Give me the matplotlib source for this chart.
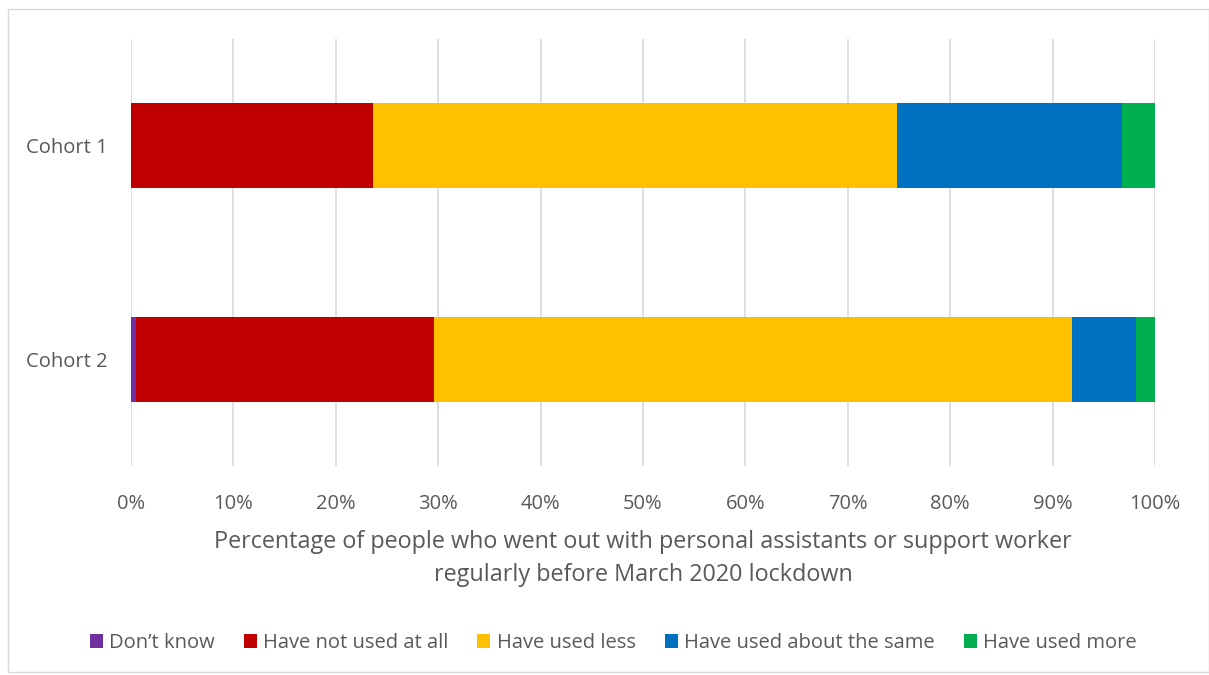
import numpy as np
from matplotlib import pyplot as plt
from matplotlib.patches import Rectangle

plt.rcParams['font.family'] = ['Open Sans', 'DejaVu Sans']

cohorts = ['Cohort 2', 'Cohort 1']
categories = ["Don\u2019t know", 'Have not used at all', 'Have used less',
              'Have used about the same', 'Have used more']
colors = ['#7030A0', '#C00000', '#FFC000', '#0070C0', '#00B050']
# percentages, order matches cohorts (bottom to top)
dont_know = [0.45, 0.0]
not_used = [29.1, 23.6]
used_less = [62.3, 51.2]
about_same = [6.3, 22.0]
used_more = [1.85, 3.2]
series = [dont_know, not_used, used_less, about_same, used_more]

fig = plt.figure(figsize=(12.09, 6.75), dpi=100)
fig.patches.append(Rectangle((8/1209, 1-672/675), 1-8/1209, (672-9)/675,
                             transform=fig.transFigure, fill=False,
                             edgecolor='#D9D9D9', linewidth=1))
ax = fig.add_axes([131/1209, 1-466/675, (1155-131)/1209, (466-39)/675])

y = np.arange(len(cohorts))
left = np.zeros(len(cohorts))
for vals, lab, col in zip(series, categories, colors):
    ax.barh(y, vals, left=left, height=0.4, color=col, label=lab, zorder=3)
    left += np.array(vals)

ax.set_xlim(0, 100)
ax.set_ylim(-0.5, 1.5)
ax.set_xticks(np.arange(0, 101, 10))
ax.set_xticklabels([f'{v}%' for v in range(0, 101, 10)])
ax.set_yticks(y)
ax.set_yticklabels(cohorts)
ax.tick_params(length=0, labelsize=14.5, colors='#595959')
ax.tick_params(axis='x', pad=20)
ax.tick_params(axis='y', pad=17)
ax.grid(axis='x', color='#D9D9D9', linewidth=1.2, zorder=0)
for s in ax.spines.values():
    s.set_visible(False)
ax.set_xlabel('Percentage of people who went out with personal assistants or support worker\nregularly before March 2020 lockdown',
              fontsize=16.8, color='#595959', labelpad=12, linespacing=1.45)

fig.legend(loc='center', bbox_to_anchor=(613/1209, 1-643/675), ncol=5, frameon=False,
           fontsize=14.5, labelcolor='#595959', handlelength=0.65, handleheight=0.65,
           handletextpad=0.3, columnspacing=1.45)

fig.savefig('out.png', dpi=100)
